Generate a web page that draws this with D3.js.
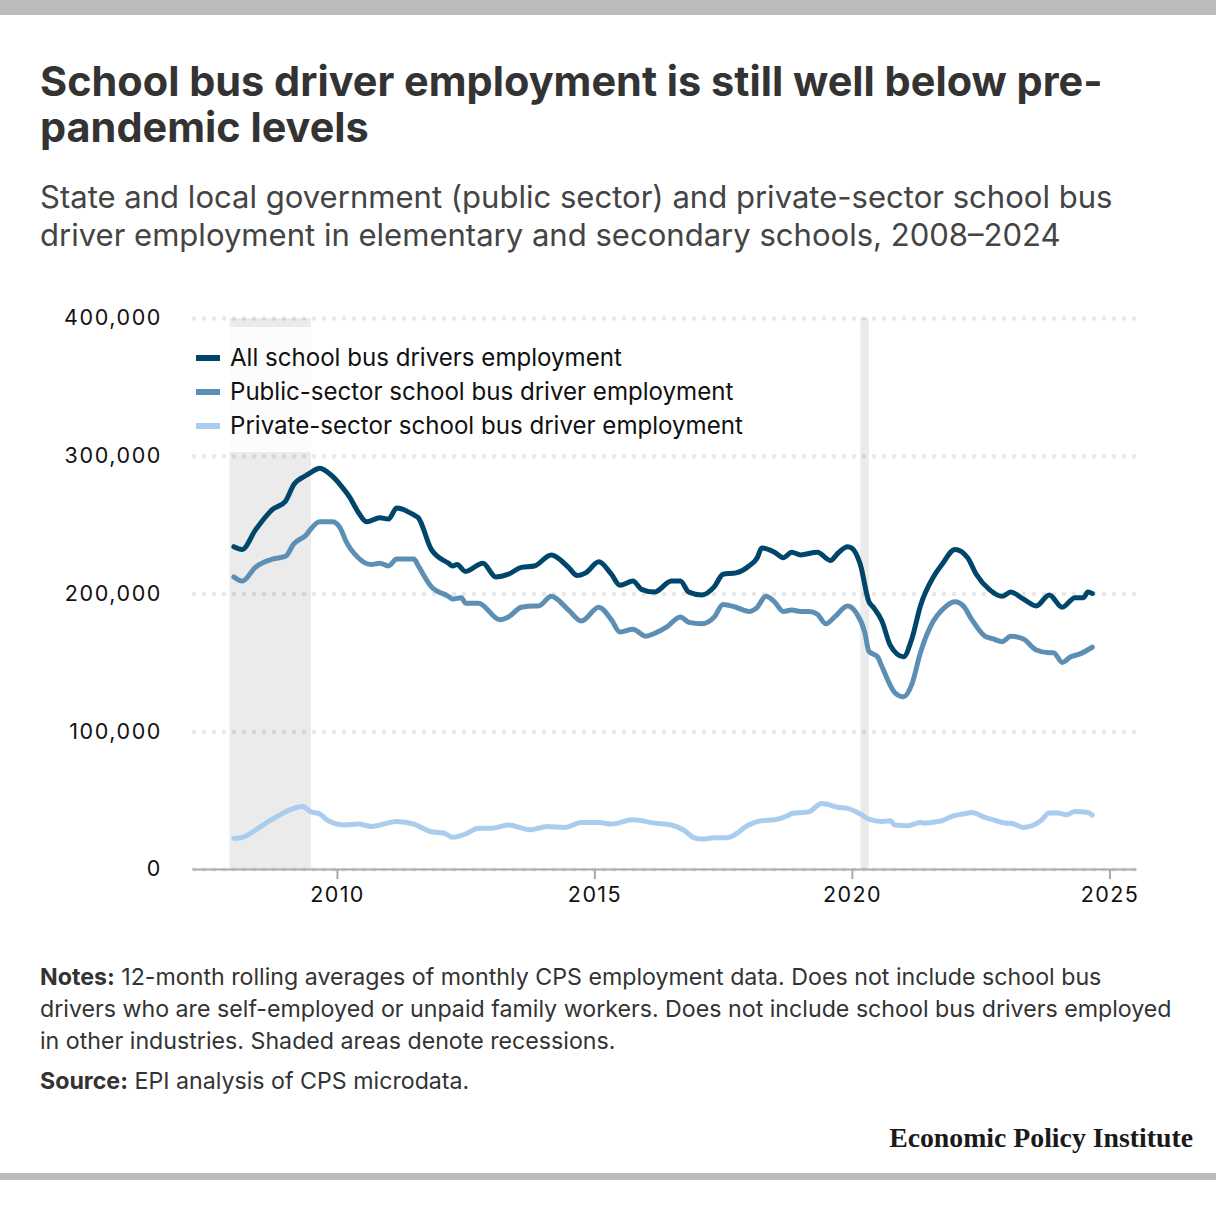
<!DOCTYPE html>
<html><head><meta charset="utf-8">
<script src="https://cdn.jsdelivr.net/npm/d3@7"></script>
<style>body{margin:0;background:#fff}svg{display:block}</style>
</head><body>
<svg id="c" width="1216" height="1224"></svg>
<script>
// ---------------- DATA ----------------
const allDates = ["2008-01","2008-03","2008-06","2008-10","2009-01","2009-03","2009-06","2009-07","2009-09","2009-12","2010-02","2010-04","2010-06","2010-08","2010-11","2011-01","2011-03","2011-07","2011-08","2011-11","2012-03","2012-04","2012-05","2012-07","2012-11","2013-02","2013-05","2013-08","2013-11","2014-03","2014-07","2014-09","2014-11","2015-02","2015-05","2015-07","2015-10","2015-12","2016-03","2016-07","2016-09","2016-11","2017-02","2017-05","2017-07","2017-10","2018-01","2018-03","2018-04","2018-07","2018-09","2018-11","2019-01","2019-05","2019-08","2019-10","2019-12","2020-01","2020-03","2020-05","2020-06","2020-08","2020-10","2021-01","2021-03","2021-05","2021-08","2021-10","2022-01","2022-04","2022-06","2022-09","2022-12","2023-02","2023-05","2023-08","2023-11","2024-02","2024-05","2024-07","2024-08","2024-09"];
const allValues = [234000,232000,246000,261000,267000,279000,286000,288000,291000,285000,278000,270000,259000,252000,255000,254000,262000,257000,255000,232000,222000,220000,221000,216000,222000,212000,214000,219000,220000,228000,219000,213000,215000,223000,214000,206000,209000,203000,201000,209000,209000,201000,199000,205000,214000,215000,220000,226000,233000,230000,226000,230000,228000,230000,224000,230000,234000,233000,221000,194000,190000,180000,162000,154000,167000,191000,212000,221000,232000,226000,214000,203000,198000,201000,196000,191000,199000,190000,197000,197000,201000,200000];

const publicDates = ["2008-01","2008-03","2008-06","2008-10","2009-01","2009-03","2009-06","2009-07","2009-09","2009-12","2010-02","2010-03","2010-06","2010-09","2010-11","2011-01","2011-03","2011-07","2011-08","2011-11","2012-03","2012-04","2012-06","2012-07","2012-10","2013-03","2013-05","2013-08","2013-11","2013-12","2014-03","2014-07","2014-10","2015-02","2015-05","2015-07","2015-10","2016-01","2016-03","2016-06","2016-09","2016-11","2017-02","2017-05","2017-07","2017-10","2018-01","2018-03","2018-05","2018-07","2018-09","2018-11","2019-01","2019-03","2019-05","2019-07","2019-09","2019-12","2020-02","2020-04","2020-05","2020-07","2020-08","2020-11","2021-01","2021-03","2021-05","2021-08","2021-10","2022-01","2022-03","2022-05","2022-08","2022-10","2022-12","2023-02","2023-05","2023-08","2023-11","2023-12","2024-02","2024-04","2024-06","2024-09"];
const publicValues = [212000,209000,219000,225000,227000,236000,243000,247000,252000,252000,246000,239000,226000,221000,222000,220000,225000,225000,220000,205000,198000,196000,197000,193000,193000,181000,183000,190000,191000,191000,198000,188000,180000,190000,181000,172000,174000,169000,171000,176000,183000,179000,178000,183000,192000,190000,187000,190000,198000,194000,187000,188000,187000,187000,185000,178000,183000,191000,186000,172000,158000,154000,147000,128000,125000,134000,157000,180000,188000,194000,191000,181000,169000,167000,165000,169000,167000,159000,157000,157000,150000,154000,156000,161000];

const privateDates = ["2008-01","2008-03","2008-07","2008-10","2009-03","2009-05","2009-07","2009-09","2009-11","2010-03","2010-06","2010-09","2011-03","2011-07","2011-11","2012-02","2012-04","2012-07","2012-10","2013-01","2013-05","2013-10","2014-02","2014-06","2014-10","2015-02","2015-05","2015-10","2016-03","2016-07","2016-10","2016-12","2017-02","2017-05","2017-08","2017-10","2017-12","2018-04","2018-07","2018-10","2018-11","2019-03","2019-06","2019-10","2019-12","2020-03","2020-05","2020-08","2020-10","2020-11","2021-02","2021-05","2021-06","2021-09","2021-10","2021-12","2022-03","2022-05","2022-08","2022-10","2023-01","2023-02","2023-05","2023-07","2023-09","2023-11","2024-01","2024-03","2024-05","2024-08","2024-09"];
const privateValues = [22200,23000,30200,36200,44000,45400,41500,39900,35000,31900,32600,30900,34500,32600,27000,26000,23000,25400,29500,29500,31900,28500,30900,30200,33800,33800,32600,35700,33300,31900,27800,23000,21700,22700,22700,25400,30200,35000,35700,38600,40300,41500,47600,44700,44000,39900,36200,34500,35000,31900,31400,33800,33300,34500,35000,37900,39900,41000,37500,35700,33300,33300,30200,31400,35000,40600,40600,39400,41800,41000,39100];

const seriesNames = ["All school bus drivers employment","Public-sector school bus driver employment","Private-sector school bus driver employment"];
const seriesColors = ["#00466b","#5d8fb5","#a8cdee"];
const yTicks = [0,100000,200000,300000,400000];
const xTickYears = [2010,2015,2020,2025];
const recessions = [["2007-12","2009-07"],["2020-03","2020-05"]];

const titleLines = ["School bus driver employment is still well below pre-","pandemic levels"];
const subtitleLines = ["State and local government (public sector) and private-sector school bus","driver employment in elementary and secondary schools, 2008\u20132024"];
const notesLines = [["Notes:"," 12-month rolling averages of monthly CPS employment data. Does not include school bus"],["","drivers who are self-employed or unpaid family workers. Does not include school bus drivers employed"],["","in other industries. Shaded areas denote recessions."]];
const sourceLine = ["Source:"," EPI analysis of CPS microdata."];
const logoText = "Economic Policy Institute";

// ---------------- RENDER ----------------
const FONT = "Inter, 'Open Sans', sans-serif";
const parse = d3.timeParse("%Y-%m");
const svg = d3.select("#c");

function fitBlock(sels, refIndex, target){
  const w = sels[refIndex].node().getComputedTextLength();
  const fs = +sels[refIndex].attr("font-size");
  const nf = fs*target/w;
  sels.forEach(s=>s.attr("font-size", nf));
}

// frame bars
svg.append("rect").attr("x",0).attr("y",0).attr("width",1216).attr("height",15).attr("fill","#bbbbbb");
svg.append("rect").attr("x",0).attr("y",1173).attr("width",1216).attr("height",7).attr("fill","#bbbbbb");

// title
const tl = titleLines.map((t,i)=>svg.append("text").attr("x",40).attr("y",96+i*46)
  .attr("font-family",FONT).attr("font-weight",700).attr("font-size",32).attr("fill","#333").text(t));
fitBlock(tl,0,1063);
const sl = subtitleLines.map((t,i)=>svg.append("text").attr("x",40).attr("y",208+i*38)
  .attr("font-family",FONT).attr("font-size",27).attr("fill","#444").text(t));
fitBlock(sl,0,1073);

// scales
const x = d3.scaleTime().domain([new Date(2007,2,10), new Date(2025,6,8)]).range([192,1136]);
const y = d3.scaleLinear().domain([0,400000]).range([869,318]);

// recession shading
svg.append("g").selectAll("rect").data(recessions).join("rect")
  .attr("x",d=>x(parse(d[0]))).attr("width",d=>x(parse(d[1]))-x(parse(d[0])))
  .attr("y",y(400000)).attr("height",y(0)-y(400000)).attr("fill","#ebebeb");

// gridlines
const grid = svg.append("g").attr("transform","translate(192,0)")
  .call(d3.axisLeft(y).tickValues(yTicks).tickSize(-(1136-192)).tickFormat(""));
grid.select(".domain").remove();
grid.selectAll("line").attr("stroke","rgba(0,0,0,0.09)").attr("stroke-width",4).attr("stroke-dasharray","4,6");

// y labels
const yl = svg.append("g").attr("transform","translate(192,0)")
  .call(d3.axisLeft(y).tickValues(yTicks).tickSize(0).tickPadding(30).tickFormat(d3.format(",")));
yl.select(".domain").remove();
yl.selectAll("text").attr("font-family",FONT).attr("font-size",21.5).attr("fill","#111").attr("letter-spacing",1.6);

// x axis
const xa = svg.append("g").attr("transform","translate(0,869)")
  .call(d3.axisBottom(x).tickValues(xTickYears.map(v=>new Date(v,0,1))).tickSize(10).tickSizeOuter(0).tickPadding(8).tickFormat(d3.timeFormat("%Y")));
xa.select(".domain").attr("stroke","#aaaaaa").attr("stroke-width",2);
xa.selectAll("line").attr("stroke","#aaaaaa").attr("stroke-width",2);
xa.selectAll("text").attr("font-family",FONT).attr("font-size",21.5).attr("fill","#111").attr("letter-spacing",1.4);

// legend background
svg.append("rect").attr("x",188).attr("y",327).attr("width",570).attr("height",125).attr("fill","#fff").attr("opacity",0.85);

// lines
const seriesData = [
  allDates.map((d,i)=>({date:parse(d), value:allValues[i]})),
  publicDates.map((d,i)=>({date:parse(d), value:publicValues[i]})),
  privateDates.map((d,i)=>({date:parse(d), value:privateValues[i]}))
];
const line = d3.line().x(d=>x(d.date)).y(d=>y(d.value)).curve(d3.curveMonotoneX);
svg.append("g").selectAll("path").data(seriesData.slice().reverse()).join("path")
  .attr("d",line).attr("fill","none")
  .attr("stroke",(d,i)=>seriesColors[2-i]).attr("stroke-width",5)
  .attr("stroke-linejoin","round").attr("stroke-linecap","round");

// legend
const lg = svg.append("g");
const lgTexts = [];
seriesNames.forEach((n,i)=>{
  const yy = 358+i*34;
  lg.append("line").attr("x1",196).attr("x2",220).attr("y1",yy).attr("y2",yy)
    .attr("stroke",seriesColors[i]).attr("stroke-width",6);
  lgTexts.push(lg.append("text").attr("x",230).attr("y",yy).attr("dy","0.35em")
    .attr("font-family",FONT).attr("font-size",22).attr("fill","#111").text(n));
});
fitBlock(lgTexts,2,513);

// notes
const nl = notesLines.map((p,i)=>{
  const t = svg.append("text").attr("x",40).attr("y",985+i*32)
    .attr("font-family",FONT).attr("font-size",20).attr("fill","#333");
  if(p[0]) t.append("tspan").attr("font-weight",700).text(p[0]);
  t.append("tspan").text(p[1]);
  return t;
});
const src = svg.append("text").attr("x",40).attr("y",1089)
  .attr("font-family",FONT).attr("font-size",20).attr("fill","#333");
src.append("tspan").attr("font-weight",700).text(sourceLine[0]);
src.append("tspan").text(sourceLine[1]);
fitBlock(nl.concat([src]),1,1132);

// logo
const logo = svg.append("text").attr("x",1193).attr("y",1147).attr("text-anchor","end")
  .attr("font-family","'Liberation Serif', serif").attr("font-weight",700).attr("font-size",25).attr("fill","#1a1a1a").text(logoText);
fitBlock([logo],0,304);
</script>
</body></html>
